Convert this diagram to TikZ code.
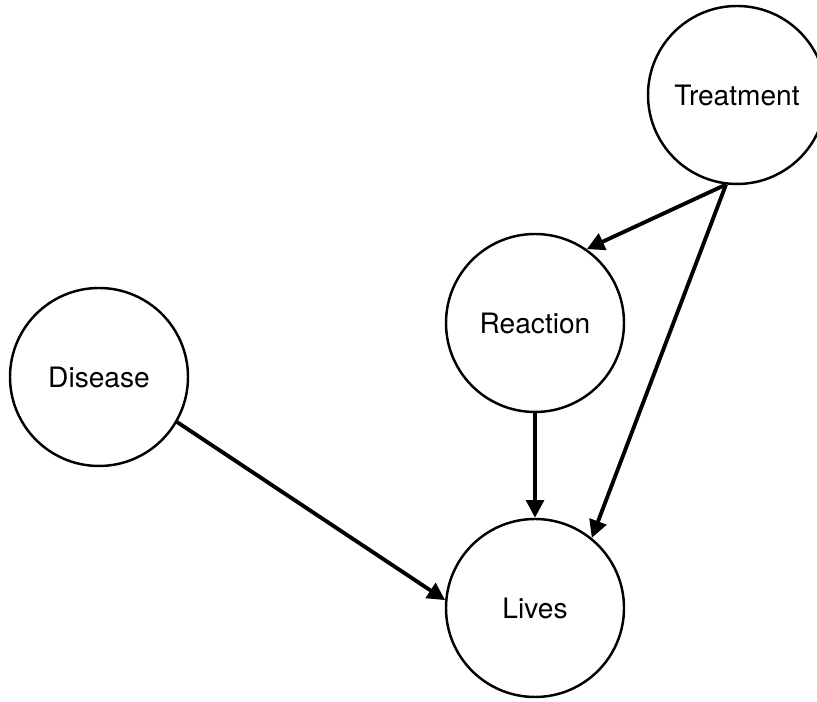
\documentclass[tikz,border=0pt]{standalone}
\usepackage{fontspec}
\setmainfont{TeX Gyre Heros}
\usetikzlibrary{%
  arrows.meta,% Triangle tips
  positioning%
}

\begin{document}
\begin{tikzpicture}[
  font=\fontsize{16}{19}\selectfont,
  >={Triangle[length=10pt,width=10pt]},
  line width=2.2pt,
  var/.style={circle,draw,line width=1.4pt,minimum size=3.56cm,inner sep=0pt},
]
\useasboundingbox (0,0) rectangle (16.34,14.04);

% variables
\node[var] (treat) at (14.74,12.14) {Treatment};
\node[var] (react) at (10.70,7.58) {Reaction};
\node[var] (dis) at (1.98,6.50) {Disease};
\node[var] (lives) at (10.70,1.88) {Lives};

% causal links
\draw[->] (treat.-97) -- (react.55);
\draw[->] (treat.-97) -- (lives.51);
\draw[->] (react) -- (lives);
\draw[->] (dis.-30) -- (lives.175);

\end{tikzpicture}
\end{document}
